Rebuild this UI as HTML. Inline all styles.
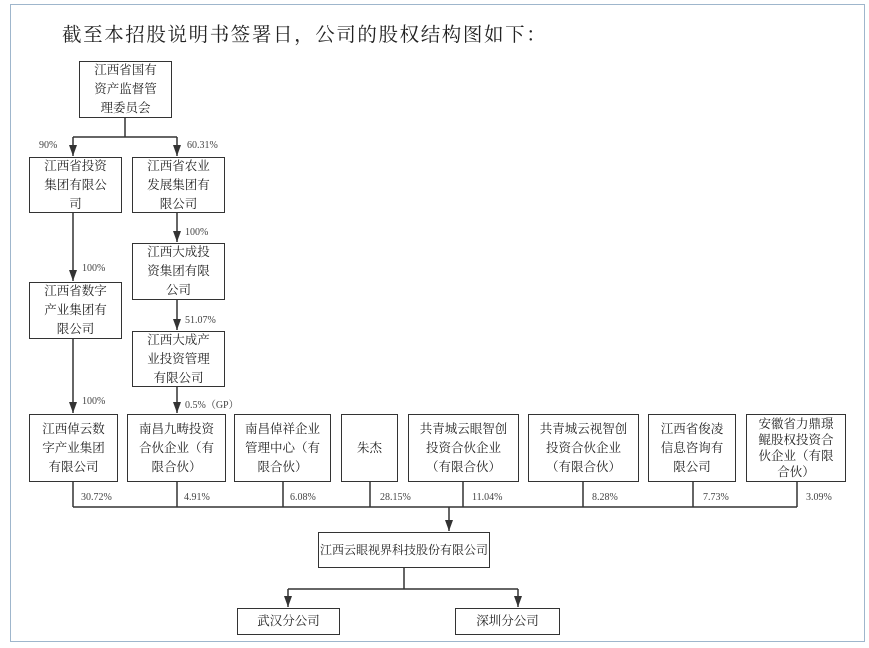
<!DOCTYPE html>
<html><head><meta charset="utf-8"><style>
body{margin:0;width:869px;height:648px;background:#fff;position:relative;overflow:hidden;font-family:"Liberation Serif","Noto Serif CJK SC",serif;color:#222}
.frame{position:absolute;left:10px;top:4px;width:855px;height:638px;border:1px solid #9fb6cc;box-sizing:border-box}
.t{position:absolute;left:62px;top:19px;font-size:19.5px;letter-spacing:1.6px;white-space:nowrap}
.b{position:absolute;border:1.6px solid #333;box-sizing:border-box;display:flex;align-items:center;justify-content:center;text-align:center;font-size:12.5px;line-height:19px;background:#fff;font-family:"Liberation Serif","Noto Serif CJK SC",serif;white-space:nowrap}
.p{position:absolute;font-size:10px;color:#444}
svg{position:absolute;left:0;top:0}
</style></head><body>
<div class="frame"></div>
<div class="t">截至本招股说明书签署日，公司的股权结构图如下：</div>
<svg width="869" height="648">
<g stroke="#333" stroke-width="1.5" fill="none">
<path d="M125 118 V137 M73 137 H177"/>
<path d="M73 137 V156 M177 137 V156 M73 213 V281 M177 213 V242 M177 300 V330 M73 339 V413 M177 387 V413 M449 507 V531 M288 589 V607 M518 589 V607"/>
<path d="M73 482 V507 M177 482 V507 M283 482 V507 M370 482 V507 M463 482 V507 M583 482 V507 M693 482 V507 M797 482 V507 M73 507 H797"/>
<path d="M404 568 V589 M288 589 H518"/>
</g>
<g fill="#333">
<path d="M69 145 L77 145 L73 156 z"/><path d="M173 145 L181 145 L177 156 z"/>
<path d="M69 270 L77 270 L73 281 z"/><path d="M173 231 L181 231 L177 242 z"/>
<path d="M173 319 L181 319 L177 330 z"/><path d="M69 402 L77 402 L73 413 z"/>
<path d="M173 402 L181 402 L177 413 z"/><path d="M445 520 L453 520 L449 531 z"/>
<path d="M284 596 L292 596 L288 607 z"/><path d="M514 596 L522 596 L518 607 z"/>
</g>
</svg>
<div class="b" style="left:79px;top:61px;width:93px;height:57px">江西省国有<br>资产监督管<br>理委员会</div>
<div class="b" style="left:29px;top:157px;width:93px;height:56px">江西省投资<br>集团有限公<br>司</div>
<div class="b" style="left:132px;top:157px;width:93px;height:56px">江西省农业<br>发展集团有<br>限公司</div>
<div class="b" style="left:132px;top:243px;width:93px;height:57px">江西大成投<br>资集团有限<br>公司</div>
<div class="b" style="left:29px;top:282px;width:93px;height:57px">江西省数字<br>产业集团有<br>限公司</div>
<div class="b" style="left:132px;top:331px;width:93px;height:56px">江西大成产<br>业投资管理<br>有限公司</div>
<div class="p" style="left:39px;top:140px">90%</div>
<div class="p" style="left:187px;top:140px">60.31%</div>
<div class="p" style="left:185px;top:227px">100%</div>
<div class="p" style="left:82px;top:263px">100%</div>
<div class="p" style="left:185px;top:315px">51.07%</div>
<div class="p" style="left:82px;top:396px">100%</div>
<div class="p" style="left:185px;top:396px">0.5%（GP）</div>
<div class="b" style="left:29px;top:414px;width:89px;height:68px">江西倬云数<br>字产业集团<br>有限公司</div>
<div class="b" style="left:127px;top:414px;width:99px;height:68px">南昌九畴投资<br>合伙企业（有<br>限合伙）</div>
<div class="b" style="left:234px;top:414px;width:97px;height:68px">南昌倬祥企业<br>管理中心（有<br>限合伙）</div>
<div class="b" style="left:341px;top:414px;width:57px;height:68px">朱杰</div>
<div class="b" style="left:408px;top:414px;width:111px;height:68px">共青城云眼智创<br>投资合伙企业<br>（有限合伙）</div>
<div class="b" style="left:528px;top:414px;width:111px;height:68px">共青城云视智创<br>投资合伙企业<br>（有限合伙）</div>
<div class="b" style="left:648px;top:414px;width:88px;height:68px">江西省俊凌<br>信息咨询有<br>限公司</div>
<div class="b" style="left:746px;top:414px;width:100px;height:68px;line-height:16px">安徽省力鼎璟<br>鲲股权投资合<br>伙企业（有限<br>合伙）</div>
<div class="p" style="left:81px;top:492px">30.72%</div>
<div class="p" style="left:184px;top:492px">4.91%</div>
<div class="p" style="left:290px;top:492px">6.08%</div>
<div class="p" style="left:380px;top:492px">28.15%</div>
<div class="p" style="left:472px;top:492px">11.04%</div>
<div class="p" style="left:592px;top:492px">8.28%</div>
<div class="p" style="left:703px;top:492px">7.73%</div>
<div class="p" style="left:806px;top:492px">3.09%</div>
<div class="b" style="left:318px;top:532px;width:172px;height:36px;font-size:12px">江西云眼视界科技股份有限公司</div>
<div class="b" style="left:237px;top:608px;width:103px;height:27px;font-size:12.5px">武汉分公司</div>
<div class="b" style="left:455px;top:608px;width:105px;height:27px;font-size:12.5px">深圳分公司</div>
</body></html>
